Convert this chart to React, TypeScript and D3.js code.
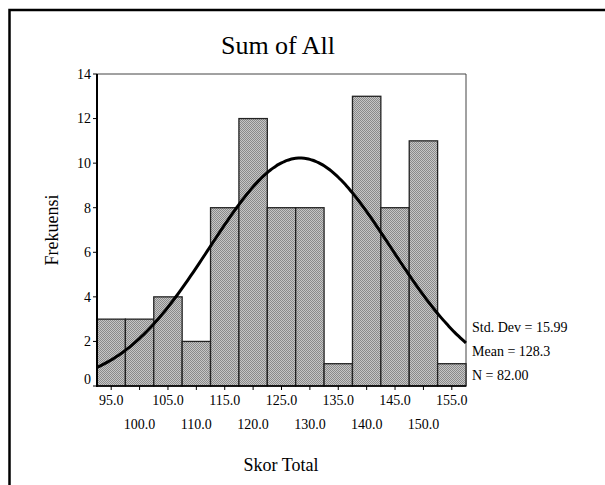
import { useEffect, useRef } from "react";
import * as d3 from "d3";

// bin centres and counts
const binCenters = [95, 100, 105, 110, 115, 120, 125, 130, 135, 140, 145, 150, 155];
const counts = [3, 3, 4, 2, 8, 12, 8, 8, 1, 13, 8, 11, 1];
const yTicks = [0, 2, 4, 6, 8, 10, 12, 14];
const stats = { sd: 15.99, mean: 128.3, n: 82 };
const statLabels = ["Std. Dev = 15.99", "Mean = 128.3", "N = 82.00"];
const binWidth = 5;

export default function App() {
  const ref = useRef<SVGSVGElement>(null);

  useEffect(() => {
    const svg = d3.select(ref.current);
    svg.selectAll("*").remove();
    const font = "'Liberation Serif', 'Times New Roman', serif";

    const left = 97, right = 466, top = 74, bottom = 386;
    const x = d3
      .scaleLinear()
      .domain([binCenters[0] - binWidth / 2, binCenters[binCenters.length - 1] + binWidth / 2])
      .range([left, right]);
    const y = d3.scaleLinear().domain([0, 14]).range([bottom, top]);

    // dotted grey fill like the original
    const defs = svg.append("defs");
    const pat = defs
      .append("pattern")
      .attr("id", "dots")
      .attr("width", 2)
      .attr("height", 2)
      .attr("patternUnits", "userSpaceOnUse");
    pat.append("rect").attr("width", 2).attr("height", 2).attr("fill", "#c6c6c6");
    pat.append("rect").attr("width", 1).attr("height", 1).attr("fill", "#8a8a8a");
    pat.append("rect").attr("x", 1).attr("y", 1).attr("width", 1).attr("height", 1).attr("fill", "#8a8a8a");

    // outer frame
    svg
      .append("path")
      .attr("d", "M9.5,485 V10 H605")
      .attr("fill", "none")
      .attr("stroke", "#000")
      .attr("stroke-width", 2.5);

    // title
    svg
      .append("text")
      .attr("x", 278)
      .attr("y", 54)
      .attr("text-anchor", "middle")
      .attr("font-family", font)
      .attr("font-size", 26)
      .text("Sum of All");

    // plot frame top/right
    svg
      .append("path")
      .attr("d", `M${left},${top} H${right} V${bottom}`)
      .attr("fill", "none")
      .attr("stroke", "#444")
      .attr("stroke-width", 1);

    // bars
    svg
      .append("g")
      .selectAll("rect")
      .data(binCenters)
      .join("rect")
      .attr("x", (d) => x(d - binWidth / 2))
      .attr("y", (d, i) => y(counts[i]))
      .attr("width", (d) => x(d + binWidth / 2) - x(d - binWidth / 2))
      .attr("height", (d, i) => bottom - y(counts[i]))
      .attr("fill", "url(#dots)")
      .attr("stroke", "#222")
      .attr("stroke-width", 1.3);

    // normal curve fitted to the stated mean / sd / N
    const peak = (stats.n * binWidth) / (stats.sd * Math.sqrt(2 * Math.PI));
    const xs = d3.range(x.domain()[0], x.domain()[1] + 0.01, 0.5);
    const line = d3
      .line<number>()
      .x((d) => x(d))
      .y((d) => y(peak * Math.exp(-0.5 * ((d - stats.mean) / stats.sd) ** 2)))
      .curve(d3.curveBasis);
    svg
      .append("path")
      .datum(xs)
      .attr("d", line)
      .attr("fill", "none")
      .attr("stroke", "#000")
      .attr("stroke-width", 3);

    // y axis
    svg
      .append("line")
      .attr("x1", left)
      .attr("x2", left)
      .attr("y1", top)
      .attr("y2", bottom + 1)
      .attr("stroke", "#000")
      .attr("stroke-width", 2);
    const yg = svg.append("g");
    yg.selectAll("line")
      .data(yTicks)
      .join("line")
      .attr("x1", left - 4)
      .attr("x2", left)
      .attr("y1", (d) => y(d))
      .attr("y2", (d) => y(d))
      .attr("stroke", "#000");
    yg.selectAll("text")
      .data(yTicks)
      .join("text")
      .attr("x", left - 6)
      .attr("y", (d) => (d === 0 ? y(d) - 7 : y(d)))
      .attr("dy", "0.35em")
      .attr("text-anchor", "end")
      .attr("font-family", font)
      .attr("font-size", 14)
      .text((d) => d);

    // x axis
    svg
      .append("line")
      .attr("x1", left - 1)
      .attr("x2", right)
      .attr("y1", bottom)
      .attr("y2", bottom)
      .attr("stroke", "#000")
      .attr("stroke-width", 1.5);
    const xg = svg.append("g");
    xg.selectAll("line")
      .data(binCenters)
      .join("line")
      .attr("x1", (d) => x(d))
      .attr("x2", (d) => x(d))
      .attr("y1", bottom)
      .attr("y2", bottom + 4)
      .attr("stroke", "#000");
    xg.selectAll("text")
      .data(binCenters)
      .join("text")
      .attr("x", (d) => x(d))
      .attr("y", (d, i) => (i % 2 === 0 ? 405 : 429))
      .attr("text-anchor", "middle")
      .attr("font-family", font)
      .attr("font-size", 14)
      .text((d) => d.toFixed(1));

    // stats legend
    svg
      .append("g")
      .selectAll("text")
      .data(statLabels)
      .join("text")
      .attr("x", 472)
      .attr("y", (d, i) => 332 + i * 24)
      .attr("font-family", font)
      .attr("font-size", 14)
      .text((d) => d);

    // axis titles
    svg
      .append("text")
      .attr("x", 281)
      .attr("y", 471)
      .attr("text-anchor", "middle")
      .attr("font-family", font)
      .attr("font-size", 18)
      .text("Skor Total");
    svg
      .append("text")
      .attr("transform", "translate(58,230) rotate(-90)")
      .attr("text-anchor", "middle")
      .attr("font-family", font)
      .attr("font-size", 18)
      .text("Frekuensi");
  }, []);

  return (
    <svg
      ref={ref}
      width={605}
      height={485}
      style={{ position: "absolute", left: 0, top: 0, background: "#fff" }}
    />
  );
}
